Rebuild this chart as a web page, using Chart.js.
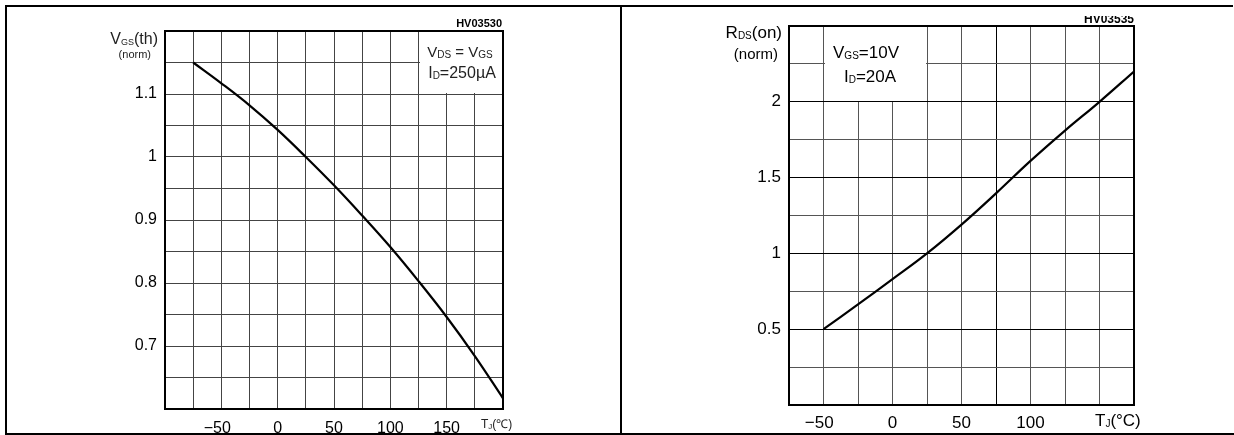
<!DOCTYPE html>
<html>
<head>
<meta charset="utf-8">
<script src="https://cdn.jsdelivr.net/npm/chart.js@4/dist/chart.umd.min.js"></script>
<style>
    body { margin: 0; background: #fff; width: 1234px; height: 435px; position: relative; overflow: hidden; }
    canvas { position: absolute; top: 0; }
    .rule { position: absolute; background: #000; z-index: 2; }
</style>
</head>
<body>
<canvas id="vgsChart" width="620" height="435" style="left:0"></canvas>
<canvas id="rdsChart" width="614" height="435" style="left:620px"></canvas>
<div class="rule" style="left:5px;top:5px;width:1228px;height:2px"></div>
<div class="rule" style="left:5px;top:5px;width:2px;height:430px"></div>
<div class="rule" style="left:620px;top:5px;width:2px;height:430px"></div>
<div class="rule" style="left:5px;top:433px;width:1229px;height:2px"></div>
<script>
'use strict';

/* left chart : Vgs(th) normalised vs Tj */
const vgsTemps = [-75, -50, -25, 0, 25, 50, 75, 100, 125, 150, 175, 200];
const vgsValues = [1.15, 1.117, 1.082, 1.043, 1.0, 0.955, 0.907, 0.857, 0.803, 0.746, 0.684, 0.617];
const vgsXTicks = [-50, 0, 50, 100, 150];
const vgsYTicks = [0.7, 0.8, 0.9, 1, 1.1];

/* right chart : Rds(on) normalised vs Tj */
const rdsTemps = [-50, -25, 0, 25, 50, 75, 100, 125, 150, 175];
const rdsValues = [0.5, 0.664, 0.83, 1.0, 1.19, 1.396, 1.61, 1.81, 2.0, 2.2];
const rdsXTicks = [-50, 0, 50, 100];
const rdsYTicks = [0.5, 1, 1.5, 2];

const FONT = "'Liberation Sans', Arial, sans-serif";

const findTick = (list, v) => list.find(t => Math.abs(t - v) < 1e-6);
const fmtX = v => v < 0 ? '\u2212' + Math.abs(v) + '\u2002' : String(v);

// text with subscripts, parts = [text, size, dy]
function drawParts(ctx, parts, x, y, align, color, weight) {
    ctx.save();
    ctx.fillStyle = color || '#000';
    ctx.textBaseline = 'alphabetic';
    ctx.textAlign = 'left';
    const w = weight ? weight + ' ' : '';
    let total = 0;
    for (const p of parts) {
        ctx.font = w + p[1] + 'px ' + FONT;
        total += ctx.measureText(p[0]).width;
    }
    let cx = align === 'right' ? x - total : align === 'center' ? x - total / 2 : x;
    for (const p of parts) {
        ctx.font = w + p[1] + 'px ' + FONT;
        ctx.fillText(p[0], cx, y + (p[2] || 0));
        cx += ctx.measureText(p[0]).width;
    }
    ctx.restore();
}

const decorPlugin = {
    id: 'decor',
    beforeDatasetsDraw(chart, args, opts) {
        const ctx = chart.ctx;
        const xs = chart.scales.x, ys = chart.scales.y;
        const b = opts.box;
        const x1 = Math.round(xs.getPixelForValue(b.x0)) + 1;
        const x2 = Math.round(xs.getPixelForValue(b.x1)) - (b.inner ? 1 : 0);
        const y2 = Math.round(ys.getPixelForValue(b.y0)) - 1;
        ctx.save();
        ctx.fillStyle = '#fff';
        ctx.fillRect(x1, chart.chartArea.top, x2 - x1, y2 - chart.chartArea.top);
        ctx.restore();
    },
    afterDraw(chart, args, opts) {
        const ctx = chart.ctx;
        const a = chart.chartArea;
        ctx.save();
        ctx.strokeStyle = '#000';
        ctx.lineWidth = 2;
        ctx.strokeRect(a.left, a.top, a.right - a.left, a.bottom - a.top);
        ctx.restore();
        for (const t of opts.texts) {
            if (t.clipTop) {
                ctx.save();
                ctx.beginPath();
                ctx.rect(0, t.clipTop, chart.width, 100);
                ctx.clip();
            }
            drawParts(ctx, t.parts, t.x, t.y, t.align, t.color, t.weight);
            if (t.clipTop) ctx.restore();
        }
    }
};

function makeChart(id, cfg) {
    return new Chart(document.getElementById(id).getContext('2d'), {
        type: 'line',
        data: {
            datasets: [{
                data: cfg.xs.map((x, i) => ({ x: x, y: cfg.ys[i] })),
                borderColor: '#000',
                borderWidth: 2.2,
                pointRadius: 0,
                fill: false,
                tension: 0.4
            }]
        },
        options: {
            responsive: false,
            animation: false,
            devicePixelRatio: 1,
            layout: { padding: cfg.padding },
            plugins: {
                legend: { display: false },
                tooltip: { enabled: false },
                decor: { box: cfg.box, texts: cfg.texts }
            },
            scales: {
                x: {
                    type: 'linear',
                    min: cfg.xMin, max: cfg.xMax,
                    border: { display: false },
                    grid: { color: cfg.gridColorX, lineWidth: 1, drawTicks: false },
                    ticks: {
                        stepSize: 25, autoSkip: false, maxRotation: 0,
                        padding: cfg.xPad,
                        color: '#000',
                        font: { family: FONT, size: cfg.fontSize },
                        callback: v => findTick(cfg.xTicks, v) !== undefined ? fmtX(findTick(cfg.xTicks, v)) : ''
                    },
                    afterFit: s => { s.height = cfg.xHeight; }
                },
                y: {
                    min: cfg.yMin, max: cfg.yMax,
                    border: { display: false },
                    grid: { color: cfg.gridColorY, lineWidth: 1, drawTicks: false },
                    ticks: {
                        stepSize: cfg.yStep, autoSkip: false,
                        padding: 8,
                        color: '#000',
                        font: { family: FONT, size: cfg.fontSize },
                        callback: v => findTick(cfg.yTicks, v) !== undefined ? String(findTick(cfg.yTicks, v)) : ''
                    },
                    afterFit: s => { s.width = cfg.yWidth; }
                }
            }
        },
        plugins: [decorPlugin]
    });
}

makeChart('vgsChart', {
    xs: vgsTemps, ys: vgsValues,
    xTicks: vgsXTicks, yTicks: vgsYTicks,
    xMin: -100, xMax: 200, yMin: 0.6, yMax: 1.2, yStep: 0.05,
    padding: { left: 0, right: 117, top: 31, bottom: 0 },
    yWidth: 165, xHeight: 26, xPad: 10, fontSize: 16,
    gridColorX: '#444', gridColorY: '#444',
    box: { x0: 125, x1: 200, y0: 1.1, inner: false },
    texts: [
        { parts: [['HV03530', 11]], x: 502, y: 27, align: 'right', weight: 'bold' },
        { parts: [['V', 16], ['GS', 9, 1], ['(th)', 16]], x: 158, y: 44, align: 'right', color: '#222' },
        { parts: [['(norm)', 11]], x: 151, y: 58, align: 'right', color: '#222' },
        { parts: [['V', 15], ['DS', 10, 1], [' = V', 15], ['GS', 10, 1]], x: 460, y: 57, align: 'center', color: '#222' },
        { parts: [['I', 16], ['D', 10, 1], ['=250\u00b5A', 16]], x: 462, y: 78, align: 'center', color: '#222' },
        { parts: [['T', 12], ['J', 8, 1], ['(\u2103)', 12]], x: 481, y: 428, align: 'left', color: '#222' }
    ]
});

makeChart('rdsChart', {
    xs: rdsTemps, ys: rdsValues,
    xTicks: rdsXTicks, yTicks: rdsYTicks,
    xMin: -75, xMax: 175, yMin: 0, yMax: 2.5, yStep: 0.25,
    padding: { left: 0, right: 100, top: 26, bottom: 0 },
    yWidth: 169, xHeight: 30, xPad: 8, fontSize: 17,
    gridColorX: c => c.tick && c.tick.value === 75 ? '#000' : '#555',
    gridColorY: c => c.tick && findTick(rdsYTicks, c.tick.value) !== undefined ? '#000' : '#555',
    box: { x0: -50, x1: 25, y0: 2, inner: true },
    texts: [
        { parts: [['HV03535', 12]], x: 514, y: 23, align: 'right', clipTop: 16, weight: 'bold' },
        { parts: [['R', 17], ['DS', 10, 1], ['(on)', 17]], x: 162, y: 38, align: 'right' },
        { parts: [['(norm)', 15]], x: 158, y: 59, align: 'right' },
        { parts: [['V', 17], ['GS', 10, 1], ['=10V', 17]], x: 246, y: 58, align: 'center' },
        { parts: [['I', 17], ['D', 10, 1], ['=20A', 17]], x: 250, y: 82, align: 'center' },
        { parts: [['T', 17], ['J', 10, 1], ['(\u00b0C)', 17]], x: 475, y: 426, align: 'left' }
    ]
});
</script>
</body>
</html>
